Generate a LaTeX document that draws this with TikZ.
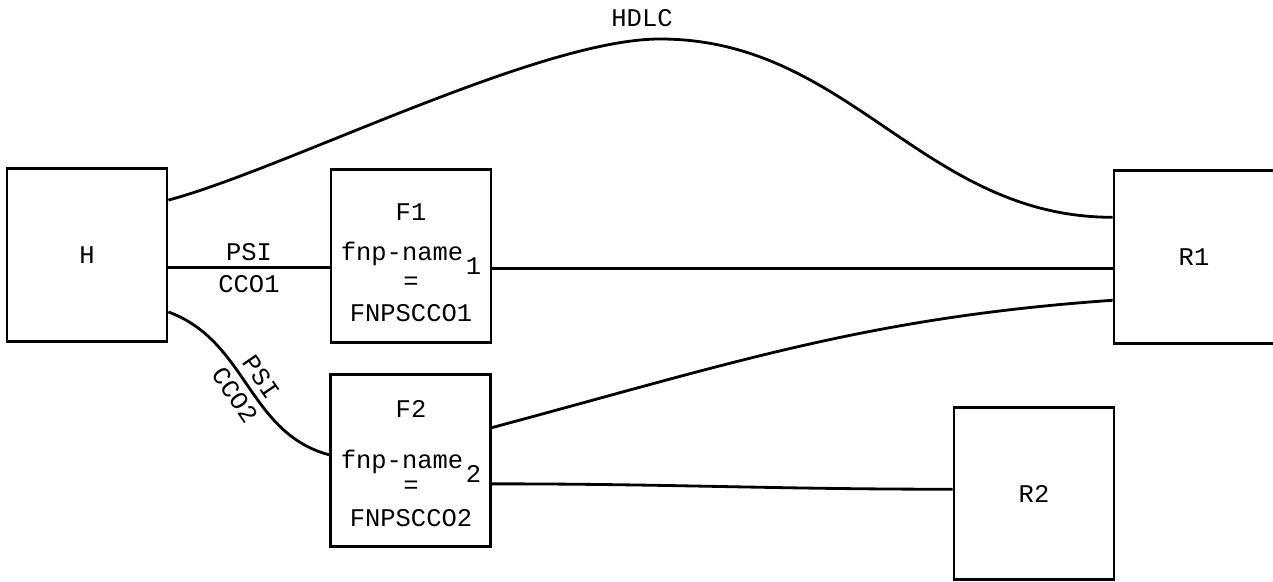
\documentclass[tikz,border=0pt]{standalone}
\usepackage{fontspec}
\setmonofont{Liberation Mono}
\usetikzlibrary{positioning}

\newcommand{\fnpsub}[1]{\kern1.5pt\smash{\raisebox{-8pt}{#1}}}

\begin{document}
\begin{tikzpicture}[x=0.02cm, y=0.02cm, line width=1.6pt,
		every node/.style={font=\ttfamily\fontsize{14.5pt}{17pt}\selectfont},
		box/.style={draw, minimum width=3.2cm, minimum height=3.45cm, inner sep=0pt},
		fntext/.style={anchor=north, align=center, inner sep=0pt}]
		\useasboundingbox (0,0) rectangle (1273,-581);

		% Kästen
		\node[box] (H) at (87,-255) {H};
		\node[box] (F1) at (411,-256) {};
		\node[box] (F2) at (410.5,-460.5) {};
		\node[box] (R1) at (1194,-257) {R1};
		\node[box] (R2) at (1034,-493.5) {R2};

		\node[fntext] (F1t) at (411,-202) {F1\\[6pt]fnp-name\fnpsub{1}\\[-0.5pt]=\\[1pt]FNPSCCO1};
		\node[fntext] (F2t) at (411,-399.5) {F2\\[12pt]fnp-name\fnpsub{2}\\[-3pt]=\\[2pt]FNPSCCO2};

		% HDLC-Bogen
		\coordinate (top) at (660,-39);
		\node (hdlc) at (642,-18) {HDLC};
		\draw (H.34.5) to[out=15,in=180,looseness=0.6] (top) to[out=0,in=180] (R1.154.6);

		% Verbindungen
		\draw (H.-9) -- node[above] (psi1) {PSI} node[below] (cco1) {CCO1} (H.-9 -| F1.west);
		\draw (F1.-9) -- (F1.-9 -| R1.west);
		\draw (H.-35.5) to[out=-20,in=165] node[sloped,above] (psi2) {PSI} node[sloped,below] (cco2) {CCO2} (F2.176);
		\draw (F2.22) to[out=15,in=184] (R1.-152.3);
		\draw (F2.-16.4) to[out=0,in=180] (R2.177);
	\end{tikzpicture}
\end{document}
